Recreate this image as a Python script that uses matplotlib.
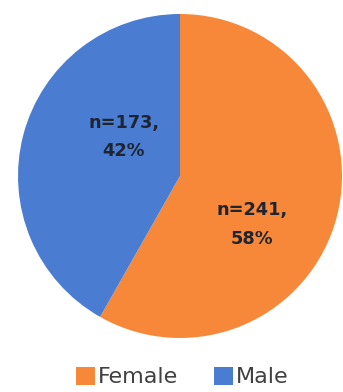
import matplotlib
matplotlib.use("Agg")
import matplotlib.pyplot as plt
from matplotlib.patches import Patch

categories = ["Female", "Male"]
counts = [241, 173]
colors = ["#F7883A", "#4A7DD1"]

fig = plt.figure(figsize=(3.43, 3.92), dpi=100)
ax = fig.add_axes([0.0525, 0.1378, 0.9446, 0.8265])

total = sum(counts)
wedges, texts, autotexts = ax.pie(
    counts, colors=colors, startangle=90, counterclock=False,
    autopct=lambda p: "n={:d},\n{:.0f}%".format(int(round(p * total / 100)), p),
    textprops=dict(fontsize=12.8, fontweight="bold", color="#1E2430", family="DejaVu Sans",
                   linespacing=1.75),
    wedgeprops=dict(linewidth=0), radius=1.0)

label_pos = [(0.444, -0.30), (-0.346, 0.24)]
for t, pos in zip(autotexts, label_pos):
    t.set_position(pos)
    t.set_ha("center")
    t.set_va("center")
    t.set_multialignment("center")

ax.set_xlim(-1, 1)
ax.set_ylim(-1, 1)
ax.set_aspect("equal")
ax.axis("off")

handles = [Patch(facecolor=c, edgecolor="none") for c in colors]
fig.legend(handles, categories, loc="center", bbox_to_anchor=(0.532, 0.038),
           ncol=2, frameon=False, handlelength=0.85, handleheight=0.85,
           handletextpad=0.15, columnspacing=1.6, borderpad=0,
           prop=dict(family="DejaVu Sans", size=16), labelcolor="#404040")

fig.savefig("out.png", dpi=100)
